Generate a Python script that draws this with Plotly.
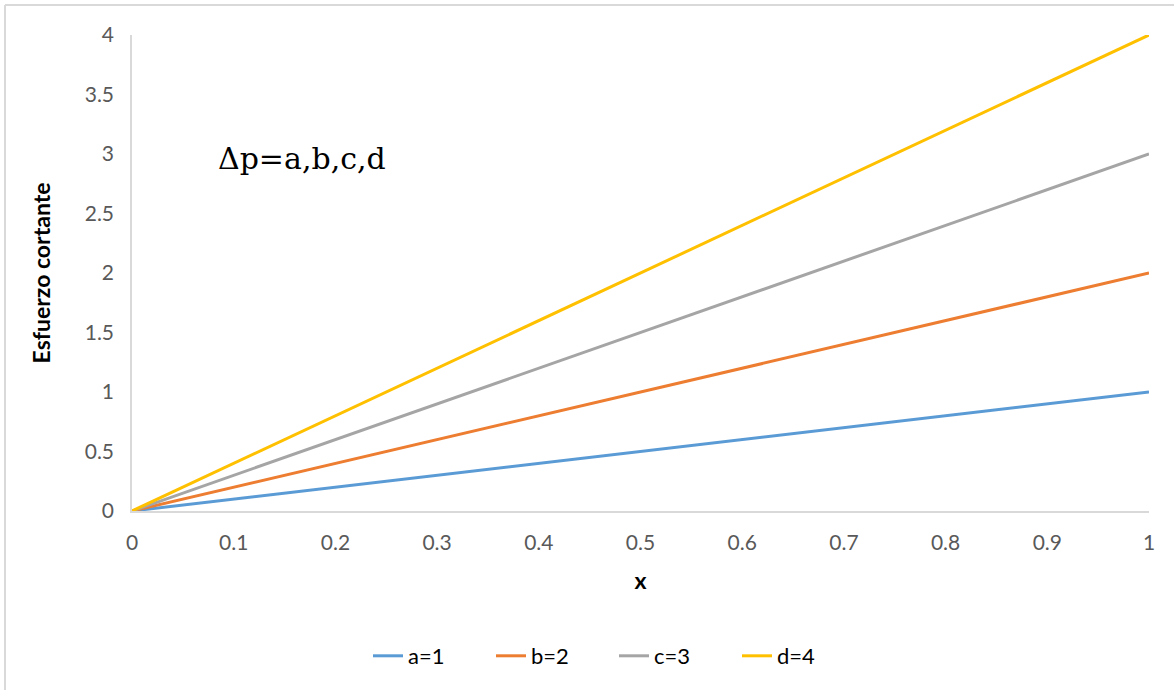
import plotly.graph_objects as go

# Shear stress vs position for each pressure-drop value
x_vals = [0, 1]
series_names = ["a=1", "b=2", "c=3", "d=4"]
series_values = [
    [0, 1],
    [0, 2],
    [0, 3],
    [0, 4],
]
series_colors = ["#5B9BD5", "#ED7D31", "#A5A5A5", "#FFC000"]

x_ticks = [0, 0.1, 0.2, 0.3, 0.4, 0.5, 0.6, 0.7, 0.8, 0.9, 1]
y_ticks = [0, 0.5, 1, 1.5, 2, 2.5, 3, 3.5, 4]

W, H = 1174, 690
ML, MR, MT, MB = 132, 25, 35, 179
font_family = "Lato, Open Sans, sans-serif"

fig = go.Figure()
for name, vals, col in zip(series_names, series_values, series_colors):
    fig.add_trace(go.Scatter(
        x=x_vals, y=vals, mode="lines", name=name,
        line=dict(color=col, width=3),
    ))

axis_common = dict(
    showgrid=False, zeroline=False, showline=True,
    linecolor="#D9D9D9", linewidth=1.5, ticks="",
    tickfont=dict(family=font_family, size=21, color="#595959"),
)
fig.update_xaxes(
    range=[0, 1], tickvals=x_ticks,
    ticktext=[f"{v:g}" for v in x_ticks],
    title=dict(text="<b>x</b>", font=dict(family=font_family, size=23, color="#000000"), standoff=20),
    ticklabelstandoff=12,
    **axis_common,
)
fig.update_yaxes(
    range=[0, 4], tickvals=y_ticks,
    ticktext=[f"{v:g}" for v in y_ticks],
    title=dict(text="<b>Esfuerzo cortante</b>", font=dict(family=font_family, size=23, color="#000000"), standoff=28),
    ticklabelstandoff=12,
    **axis_common,
)

pw, ph = W - ML - MR, H - MT - MB
def px_x(p):
    return (p - ML) / pw
def px_y(p):
    return (H - MB - p) / ph

# Outer frame of the chart (top and left edges)
fig.add_shape(type="line", xref="paper", yref="paper",
              x0=px_x(5), x1=px_x(1174), y0=px_y(5), y1=px_y(5),
              line=dict(color="#D9D9D9", width=2))
fig.add_shape(type="line", xref="paper", yref="paper",
              x0=px_x(5), x1=px_x(5), y0=px_y(5), y1=px_y(690),
              line=dict(color="#D9D9D9", width=2))

fig.add_annotation(
    text="Δp=a,b,c,d", xref="paper", yref="paper",
    x=px_x(216), y=px_y(158), xanchor="left", yanchor="middle",
    showarrow=False,
    font=dict(family="DejaVu Serif, Liberation Serif, serif", size=30, color="#000000"),
)

fig.update_layout(
    width=W, height=H,
    margin=dict(l=ML, r=MR, t=MT, b=MB),
    paper_bgcolor="white", plot_bgcolor="white",
    showlegend=True,
    legend=dict(
        orientation="h", x=px_x(368), xanchor="left",
        y=px_y(656), yanchor="middle",
        font=dict(family=font_family, size=22, color="#000000"),
        entrywidth=78, entrywidthmode="pixels",
    ),
)

fig.write_html("out.html")
